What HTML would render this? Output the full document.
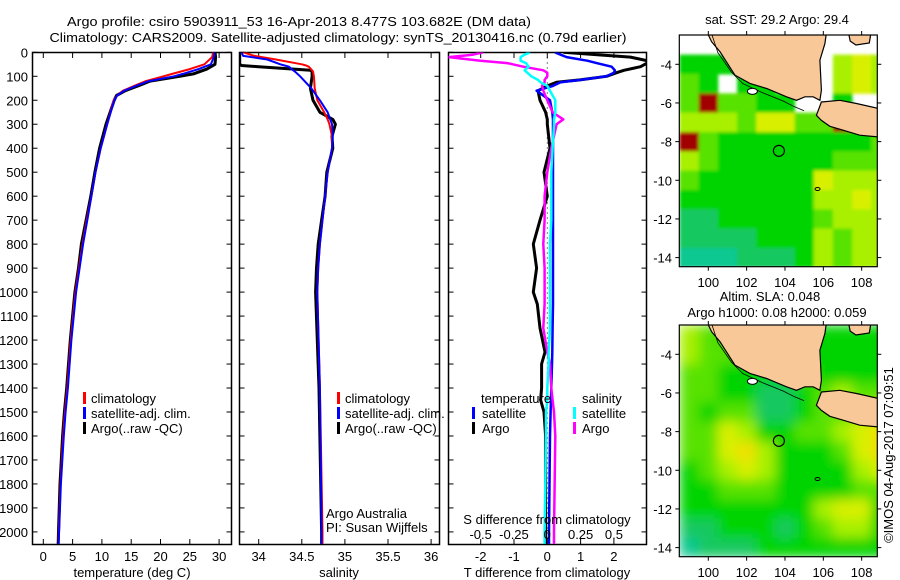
<!DOCTYPE html>
<html><head><meta charset="utf-8"><style>
html,body{margin:0;padding:0;background:#fff;}
svg{display:block;font-family:"Liberation Sans",sans-serif;}
text{font-size:13px;fill:#000;}
</style></head><body>
<svg id="fig" width="900" height="580" viewBox="0 0 900 580" xmlns="http://www.w3.org/2000/svg">
<defs>
<clipPath id="c1"><rect x="32.5" y="52.5" width="199" height="492"/></clipPath>
<clipPath id="c2"><rect x="239.5" y="52.5" width="200" height="492"/></clipPath>
<clipPath id="c3"><rect x="448.5" y="52.5" width="198" height="492"/></clipPath>
<clipPath id="m1"><rect x="679.3" y="35" width="198" height="231.7"/></clipPath>
<clipPath id="m2"><rect x="679.3" y="325" width="198" height="231.7"/></clipPath>
<filter id="b1" x="-10%" y="-10%" width="120%" height="120%"><feGaussianBlur stdDeviation="1.5"/></filter>
<filter id="b2" x="-10%" y="-10%" width="120%" height="120%"><feGaussianBlur stdDeviation="6"/></filter>
</defs>
<text x="299" y="26" text-anchor="middle" textLength="464" lengthAdjust="spacingAndGlyphs">Argo profile: csiro 5903911_53 16-Apr-2013 8.477S 103.682E (DM data)</text>
<text x="338" y="42" text-anchor="middle" textLength="577" lengthAdjust="spacingAndGlyphs">Climatology: CARS2009. Satellite-adjusted climatology: synTS_20130416.nc (0.79d earlier)</text>
<text x="777" y="24" text-anchor="middle">sat. SST: 29.2 Argo: 29.4</text>
<text x="770" y="301" text-anchor="middle">Altim. SLA: 0.048</text>
<text x="777" y="317" text-anchor="middle">Argo h1000: 0.08 h2000: 0.059</text>
<text transform="translate(893,455) rotate(-90)" text-anchor="middle">©IMOS 04-Aug-2017 07:09:51</text>
<g id="g"></g>
</svg>
<script>
// ---- profile data ----
const depthT = [0,20,50,70,90,100,120,140,160,180,200,300,400,500,600,700,800,900,1000,1200,1400,1500,1600,1800,2000,2050];
const argoT  = [29.3,29.4,29.3,27.9,25.6,23.3,18.2,16.2,14.0,12.5,12.1,10.7,9.6,8.8,8.1,7.3,6.5,6.0,5.4,4.6,4.0,3.6,3.3,2.85,2.6,2.55];
const climT  = [29.0,28.8,27.5,25.0,22.0,20.5,17.5,15.5,13.6,12.6,12.0,10.9,9.8,8.9,8.2,7.4,6.7,6.1,5.5,4.7,4.1,3.7,3.4,2.95,2.65,2.6];
const satT   = [29.2,29.1,28.6,26.5,23.8,22.3,18.0,15.8,13.8,12.6,12.1,10.9,9.8,8.9,8.2,7.5,6.8,6.2,5.6,4.8,4.2,3.8,3.5,3.0,2.7,2.6];
const depthS = [0,15,30,50,55,60,75,80,100,150,200,250,280,300,350,400,500,600,700,800,900,1000,1400,2000,2050];
const argoS  = [33.78,33.78,33.78,33.78,33.8,34.0,34.6,34.62,34.62,34.6,34.63,34.71,34.86,34.89,34.85,34.86,34.79,34.77,34.73,34.69,34.67,34.66,34.70,34.73,34.73];
const climS  = [33.82,33.95,34.2,34.5,34.55,34.58,34.62,34.63,34.64,34.65,34.68,34.76,34.8,34.82,34.85,34.85,34.8,34.77,34.74,34.71,34.69,34.68,34.71,34.74,34.74];
const satS   = [33.8,33.82,34.1,34.25,34.3,34.35,34.4,34.42,34.48,34.61,34.71,34.8,34.83,34.85,34.86,34.85,34.8,34.77,34.74,34.71,34.69,34.68,34.71,34.73,34.73];
const depthD = [0,10,20,35,45,60,75,85,100,115,125,140,160,200,250,280,300,400,500,600,700,800,900,1000,1050,1150,1250,1300,1400,1450,1500,1600,2000,2050];
const argoDT = [0.48,1.5,2.5,3.0,3.0,2.8,2.3,2.08,1.78,0.98,0.28,0.0,-0.28,-0.22,-0.05,0.0,0.0,0.08,-0.1,0.0,-0.22,-0.42,-0.32,-0.42,-0.3,-0.22,-0.07,-0.17,-0.17,-0.2,-0.1,-0.05,-0.05,-0.05];
const satDT  = [0.23,0.4,0.58,1.2,1.48,1.93,2.03,2.0,1.78,1.0,0.4,0.17,-0.32,0.08,0.15,0.17,0.17,0.17,0.17,0.17,0.17,0.17,0.17,0.17,0.17,0.16,0.15,0.14,0.12,0.11,0.1,0.08,0.05,0.05];
const satDS  = [-0.13,-0.17,-0.2,-0.2,-0.16,-0.14,-0.17,-0.15,-0.12,-0.07,-0.05,0.0,0.02,0.06,0.06,0.05,0.05,0.04,0.03,0.03,0.03,0.02,0.02,0.02,0.02,0.02,0.01,0.01,0.0,0.0,-0.01,-0.01,-0.02,-0.02];
const argoDS = [-0.48,-0.56,-0.74,-0.5,-0.3,-0.18,-0.03,0.0,0.0,-0.02,-0.02,-0.04,-0.03,0.0,0.04,0.12,0.07,0.03,0.0,-0.02,-0.02,-0.03,-0.02,-0.02,-0.02,-0.03,0.0,0.02,0.03,0.04,0.05,0.06,0.05,0.05];
const depthTicks = [0,100,200,300,400,500,600,700,800,900,1000,1100,1200,1300,1400,1500,1600,1700,1800,1900,2000];
const tempTicks = [0,5,10,15,20,25,30];
const salTicks = [34,34.5,35,35.5,36];
const salTickLabels = ['34','34.5','35','35.5','36'];
const dTTicks = [-2,-1,0,1,2];
const dSTicks = [-0.5,-0.25,0,0.25,0.5];
const dSTickLabels = ['-0.5','-0.25','0','0.25','0.5'];
const lonTicks = [100,102,104,106,108];
const latTicks = [-4,-6,-8,-10,-12,-14];
// map grids: 1-degree cells, rows from lat -2.5 downward, cols from lon 98.5
const sstRows = ["nnnnnnnnnnn","2222nnnn454","32n22nnn454","3r3322nn2nn","44435533r2n","r3222222223","43222222333","32222225444","22222224454","11222223444","11112224344","00011124344"];
const slaRows = ["43222222222","43322222222","33222232222","33221123433","32331123345","33542233456","33564222356","23454222245","22333222233","22222224552","11222123442","01112222222"];
const palette = {"0":"#10c890","1":"#18c860","2":"#00d400","3":"#58e200","4":"#a8f000","5":"#d8f000","6":"#f0e000","r":"#a00000"};
const sumatra = [[99.6,-2.3],[100.0,-2.48],[100.17,-2.83],[100.61,-3.35],[101.39,-4.56],[102.17,-4.99],[103.04,-5.25],[104.08,-5.68],[104.6,-5.86],[105.04,-5.68],[105.47,-5.68],[105.82,-5.86],[105.9,-5.34],[105.82,-3.79],[106.08,-2.93],[106.17,-2.3]];
const java = [[105.9,-5.95],[106.86,-5.86],[107.73,-6.03],[108.9,-6.29],[108.9,-7.76],[107.9,-7.67],[107.03,-7.41],[106.34,-7.21],[105.9,-6.9],[105.64,-6.64]];
const islandNE = [[107.3,-2.3],[108.5,-2.3],[108.4,-2.9],[107.7,-3.0],[107.4,-2.8]];
const floatPos = [103.682,-8.477];

const NS='http://www.w3.org/2000/svg';
const G=document.getElementById('g');
function mk(tag,attrs,parent){const e=document.createElementNS(NS,tag);for(const k in attrs)e.setAttribute(k,attrs[k]);(parent||G).appendChild(e);return e;}
const dy=d=>52.3+0.2398*d;
const tx=t=>43.3+5.86*t;
const sx=s=>258.7+86.2*(s-34);
const dtx=t=>547.3+33.3*t;
const dsx=s=>547.3+133.3*s;

function line(xs,ys,fx,fy,color,w,clip,name){
  const pts=xs.map((v,i)=>fx(v).toFixed(1)+','+fy(ys[i]).toFixed(1)).join(' ');
  const p=mk('polyline',{points:pts,fill:'none',stroke:color,'stroke-width':w,'clip-path':'url(#'+clip+')','stroke-linejoin':'round'});
  
  
  return p;
}
function panelFrame(x0,x1,name){
  const r=mk('rect',{x:x0,y:52.5,width:x1-x0,height:492,fill:'none',stroke:'#000','stroke-width':1.5});
  
  
  depthTicks.forEach(d=>{
    const y=dy(d);
    const t1=mk('line',{x1:x0,x2:x0+5,y1:y,y2:y,stroke:'#000'});
    
    
    const t2=mk('line',{x1:x1-5,x2:x1,y1:y,y2:y,stroke:'#000'});
    
    
  });
}
function xTicks(vals,f){
  vals.forEach(v=>{
    const x=f(v);
    const a=mk('line',{x1:x,x2:x,y1:544.5,y2:539,stroke:'#000'});
    
    
    const b=mk('line',{x1:x,x2:x,y1:52.5,y2:58,stroke:'#000'});
    
    
  });
}
function label(x,y,str,anchor,name){
  const t=mk('text',{x:x,y:y,'text-anchor':anchor||'start'});
  t.textContent=str;
  
  
  return t;
}
function legendMark(x,y,color,name){
  const r=mk('rect',{x:x,y:y-11,width:3,height:12,fill:color});
  
  
}

// Panel 1: temperature
panelFrame(32.5,231.5,'temperature-panel');
xTicks(tempTicks,tx);
depthTicks.forEach(d=>label(28,dy(d)+5,String(d),'end','depth-tick-label'));
tempTicks.forEach(t=>label(tx(t),561,String(t),'middle','temperature-tick-label'));
label(132,577,'temperature (deg C)','middle','temperature-axis-title');
line(argoT,depthT,tx,dy,'#000',3,'c1','argo-temperature-line');
line(climT,depthT,tx,dy,'#f00',2,'c1','climatology-temperature-line');
line(satT,depthT,tx,dy,'#00f',2,'c1','satellite-temperature-line');
legendMark(83,403,'#f00','legend-climatology-mark');label(91,403,'climatology','start','legend-climatology');
legendMark(83,418,'#00f','legend-satellite-mark');label(91,418,'satellite-adj. clim.','start','legend-satellite');
legendMark(83,433,'#000','legend-argo-mark');label(91,433,'Argo(..raw -QC)','start','legend-argo');

// Panel 2: salinity
panelFrame(239.5,439.5,'salinity-panel');
xTicks(salTicks,sx);
salTicks.forEach((s,i)=>label(sx(s),561,salTickLabels[i],'middle','salinity-tick-label'));
label(339,577,'salinity','middle','salinity-axis-title');
line(argoS,depthS,sx,dy,'#000',3,'c2','argo-salinity-line');
line(climS,depthS,sx,dy,'#f00',2,'c2','climatology-salinity-line');
line(satS,depthS,sx,dy,'#00f',2,'c2','satellite-salinity-line');
legendMark(337,403,'#f00','legend-climatology-mark');label(345,403,'climatology','start','legend-climatology');
legendMark(337,418,'#00f','legend-satellite-mark');label(345,418,'satellite-adj. clim.','start','legend-satellite');
legendMark(337,433,'#000','legend-argo-mark');label(345,433,'Argo(..raw -QC)','start','legend-argo');
label(326,518,'Argo Australia','start','credit-argo-australia');
label(326,532,'PI: Susan Wijffels','start','credit-pi');

// Panel 3: differences
panelFrame(448.5,646.5,'difference-panel');
xTicks(dTTicks,dtx);
const zl=mk('line',{x1:dtx(0),x2:dtx(0),y1:52.5,y2:544.5,stroke:'#000','stroke-dasharray':'1,4'});


line(argoDT,depthD,dtx,dy,'#000',3,'c3','argo-temperature-difference-line');
line(satDT,depthD,dtx,dy,'#00f',2.5,'c3','satellite-temperature-difference-line');
line(argoDS,depthD,dsx,dy,'#f0f',2.5,'c3','argo-salinity-difference-line');
line(satDS,depthD,dsx,dy,'#0ff',2.5,'c3','satellite-salinity-difference-line');
label(481,403,'temperature','start','legend-temperature-heading');
legendMark(472,418,'#00f','legend-t-satellite-mark');label(482,418,'satellite','start','legend-t-satellite');
legendMark(472,433,'#000','legend-t-argo-mark');label(482,433,'Argo','start','legend-t-argo');
label(582,403,'salinity','start','legend-salinity-heading');
legendMark(573,418,'#0ff','legend-s-satellite-mark');label(582,418,'satellite','start','legend-s-satellite');
legendMark(573,433,'#f0f','legend-s-argo-mark');label(582,433,'Argo','start','legend-s-argo');
label(547,524,'S difference from climatology','middle','s-difference-axis-title');
dSTicks.forEach((s,i)=>label(dsx(s),539,dSTickLabels[i],'middle','s-difference-tick-label'));
dTTicks.forEach(t=>label(dtx(t),561,String(t),'middle','t-difference-tick-label'));
label(547,577,'T difference from climatology','middle','t-difference-axis-title');

// Maps
function drawMap(rows,top,clip,blur,name){
  const lx=lon=>708.3+19.17*(lon-100);
  const ly=lat=>top+29.3-19.33*(lat+4);
  const grp=mk('g',{'clip-path':'url(#'+clip+')'});
  
  
  const cells=mk('g',{filter:'url(#'+blur+')'},grp);
  
  
  rows.forEach((row,j)=>{
    for(let i=0;i<row.length;i++){
      const c=row[i];
      if(c==='n')continue;
      const lon0=98.5+i, lat0=-2.5-j;
      const r=mk('rect',{x:lx(lon0).toFixed(1),y:ly(lat0).toFixed(1),width:19.6,height:19.8,fill:palette[c]},cells);
      
      
    }
  });
  [sumatra,java,islandNE].forEach((poly,k)=>{
    const p=mk('polygon',{points:poly.map(q=>lx(q[0]).toFixed(1)+','+ly(q[1]).toFixed(1)).join(' '),fill:'#f8c898',stroke:'#000','stroke-width':1.2},grp);
    
    
  });
  const contour=[[100.2,-2.5],[100.5,-3.4],[101.2,-4.4],[101.8,-5.0],[102.9,-5.5],[103.9,-5.9],[104.5,-6.2],[105.0,-6.4]];
  const cl=mk('polyline',{points:contour.map(q=>lx(q[0]).toFixed(1)+','+ly(q[1]).toFixed(1)).join(' '),fill:'none',stroke:'#000','stroke-width':0.8},grp);
  
  
  const isl=mk('ellipse',{cx:lx(102.3),cy:ly(-5.4),rx:5,ry:3,fill:'#fff',stroke:'#000'},grp);
  
  
  const isl2=mk('ellipse',{cx:lx(105.7),cy:ly(-10.45),rx:2.5,ry:1.5,fill:'none',stroke:'#000'},grp);
  
  
  const fp=mk('circle',{cx:lx(floatPos[0]),cy:ly(floatPos[1]),r:5.5,fill:'none',stroke:'#000','stroke-width':1.2});
  
  
  const fr=mk('rect',{x:679.3,y:top,width:198,height:231.7,fill:'none',stroke:'#000','stroke-width':1.2});
  
  
  lonTicks.forEach(lon=>{
    const x=lx(lon);
    const a=mk('line',{x1:x,x2:x,y1:top,y2:top-4,stroke:'#000'});
    
    
    const b=mk('line',{x1:x,x2:x,y1:top+231.7,y2:top+235.7,stroke:'#000'});
    
    
    label(x,top+252,String(lon),'middle','lon-tick-label');
  });
  latTicks.forEach(lat=>{
    const y=ly(lat);
    const a=mk('line',{x1:675.3,x2:679.3,y1:y,y2:y,stroke:'#000'});
    
    
    const b=mk('line',{x1:877.3,x2:881.3,y1:y,y2:y,stroke:'#000'});
    
    
    label(672,y+5,String(lat),'end','lat-tick-label');
  });
}
drawMap(sstRows,35,'m1','b1','sst-map');
drawMap(slaRows,325,'m2','b2','sla-map');
</script>
</body></html>
